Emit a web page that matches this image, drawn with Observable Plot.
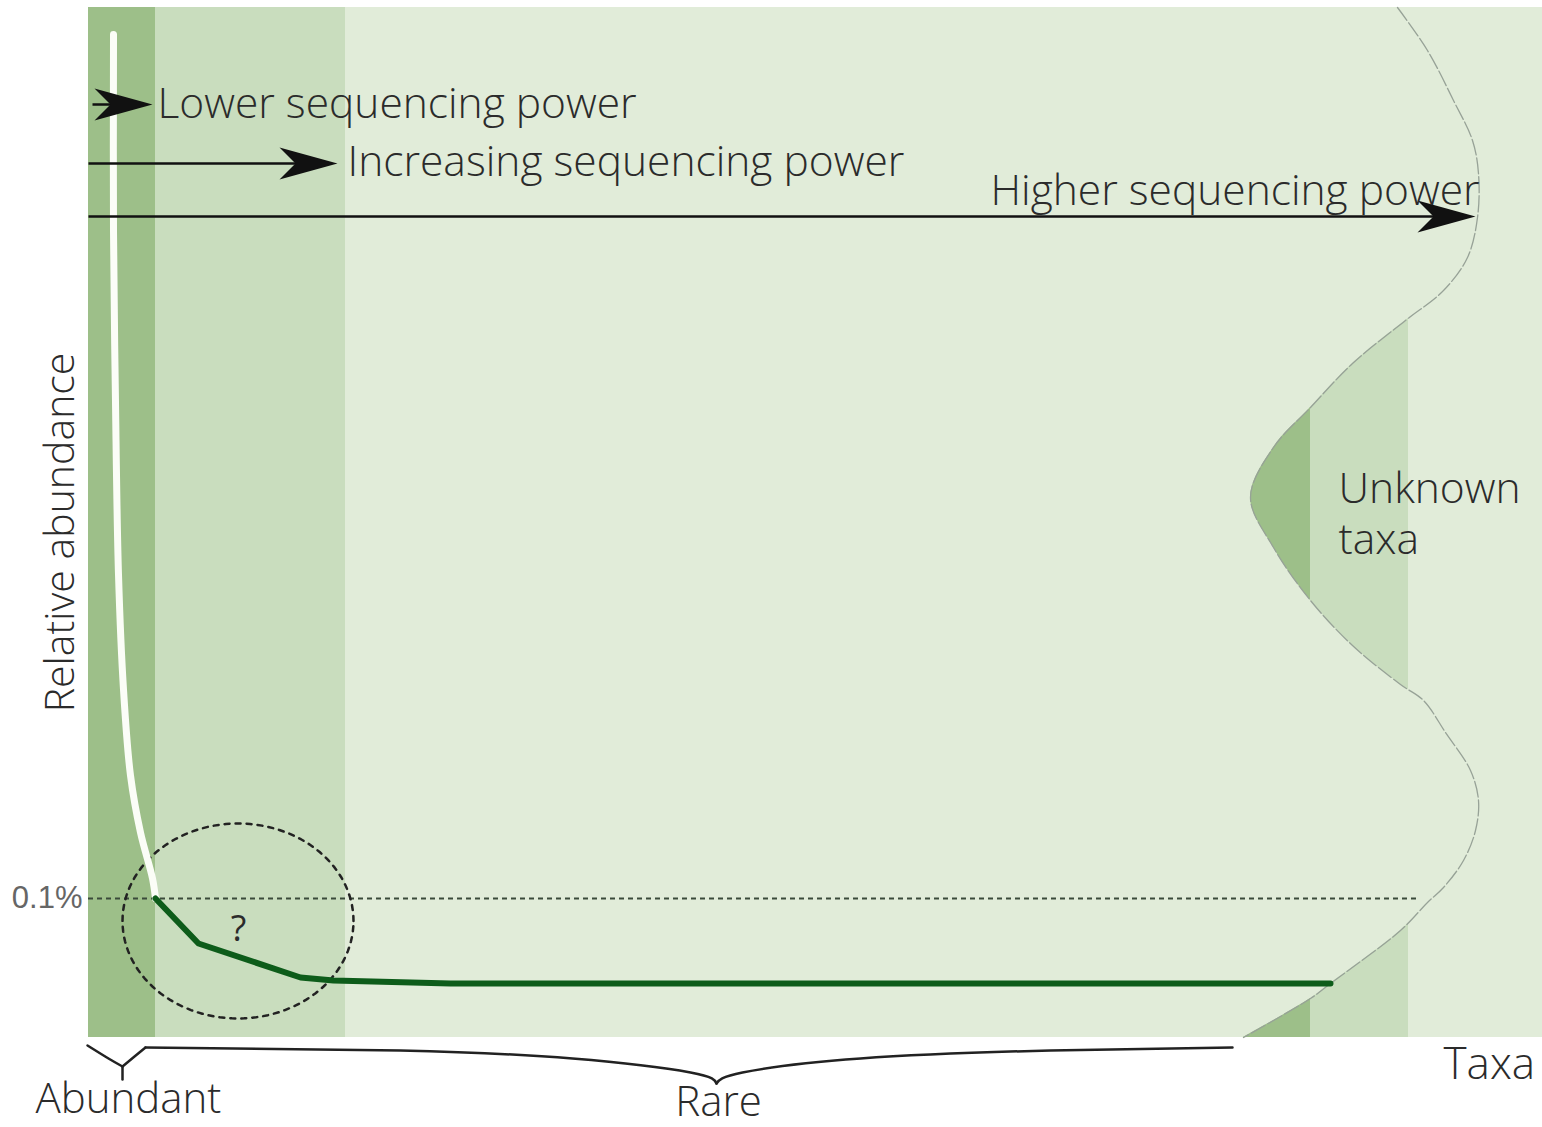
<!DOCTYPE html>
<html><head><meta charset="utf-8">
<script src="https://cdn.jsdelivr.net/npm/d3@7"></script>
<script src="https://cdn.jsdelivr.net/npm/@observablehq/plot@0.6"></script>
<style>html,body{margin:0;padding:0;background:#fff;} svg{display:block;}</style>
</head><body><div id="chart"></div>
<script>
// ---- data (chart units: taxa rank on x, relative abundance on y) ----
const taxaDomain = [0, 1454];
const abundanceDomain = [0, 1030];

const abundantBand = [0, 67];
const increasingBand = [67, 257];

// rank-abundance curve, abundant part (white)
const abundantX = [25, 25, 27, 30, 35, 42, 52, 64, 67];
const abundantY = [1003, 807, 635, 463, 348, 262, 205, 159, 139];

// rank-abundance curve, rare part (green)
const rareX = [67, 110, 212, 245, 362, 1242];
const rareY = [139, 94, 60, 57, 54, 54];

const thresholdValue = 139;
const thresholdLabel = "0.1%";

// boundary of the known/unknown taxa (wavy)
const boundaryX = [1309, 1339, 1365, 1384, 1390, 1389, 1379, 1355, 1317, 1264, 1222, 1185, 1162, 1185, 1222, 1264, 1312, 1335, 1357, 1382, 1390, 1387, 1375, 1355, 1339, 1312, 1242, 1222, 1155];
const boundaryY = [1030, 987, 937, 897, 864, 820, 780, 747, 717, 674, 630, 590, 540, 490, 437, 392, 353, 337, 305, 267, 237, 207, 177, 150, 135, 107, 54, 39, 0];

const unknownDarkBand = [1100, 1222];
const unknownMidBand = [1222, 1320];
const unknownTop = 730;

// uncertainty ellipse
const ellipse = {cx: 149.5, cy: 116.5, rx: 115.5, ry: 97.5};

// sequencing power arrows
const arrowLabels = ["Lower sequencing power", "Increasing sequencing power", "Higher sequencing power"];
const arrowStart = [4, 0, 0];
const arrowEnd = [64, 249, 1387];
const arrowY = [933, 874, 821];
const arrowLabelX = [69, 259, 902];
const arrowLabelY = [920, 862, 833];

// braces
const abundantBraceLeft = [[-1, -8], [20, -21], [34, -29]];
const abundantBraceRight = [[57, -10], [46, -19], [34, -29]];
const abundantBraceStem = [[34, -29], [34, -42]];
const rareBraceLeft = [[57, -10], [312, -13], [484, -21], [602, -35], [628, -46]];
const rareBraceRight = [[628, -46], [654, -35], [772, -21], [962, -13], [1144, -10]];

const unknownLabel = {text: "Unknown\ntaxa", x: 1250, y: 484};
const taxaLabel = {text: "Taxa", x: 1355, y: -41};
const abundantLabel = {text: "Abundant", x: -53, y: -75};
const questionLabel = {text: "?", x: 150, y: 97};
const rareLabel = {text: "Rare", x: 630, y: -78};
const yTitle = {text: "Relative abundance", x: -15, y: 505};

// ---- styles ----
const LIGHT = "#e1ecd9", MID = "#c9ddbe", DARK = "#9dbf89";
const GREEN = "#0d5c1a", INK = "#2b2b2b";
const FONT = "'Open Sans', 'DejaVu Sans', sans-serif";

const zip = (xs, ys) => xs.map((x, i) => ({x, y: ys[i]}));
const boundary = zip(boundaryX, boundaryY);
const abundantCurve = zip(abundantX, abundantY);
const rareCurve = zip(rareX, rareY);
const ellipsePts = d3.range(0, 361, 3).map(a => ({
  x: ellipse.cx + ellipse.rx * Math.cos(a * Math.PI / 180),
  y: ellipse.cy + ellipse.ry * Math.sin(a * Math.PI / 180)
}));
const arrows = arrowLabels.map((label, i) => ({label, x1: arrowStart[i], x2: arrowEnd[i], y: arrowY[i], lx: arrowLabelX[i], ly: arrowLabelY[i]}));
const pts = a => a.map(([x, y]) => ({x, y}));

const stealth = {
  draw(ctx) {
    ctx.moveTo(0, 0);
    ctx.lineTo(-58, -16);
    ctx.lineTo(-42, 0);
    ctx.lineTo(-58, 16);
    ctx.closePath();
  }
};

const textStyle = {fontFamily: FONT, fontWeight: 300, fill: INK, lineAnchor: "bottom"};
const label = (d, size, anchor = "start", extra = {}) =>
  Plot.text([d], {x: "x", y: "y", text: "text", textAnchor: anchor, ...textStyle, fontSize: size, ...extra});

const chart = Plot.plot({
  width: 1542,
  height: 1127,
  marginLeft: 88,
  marginRight: 0,
  marginTop: 7,
  marginBottom: 90,
  style: {background: "#fff", overflow: "visible"},
  x: {domain: taxaDomain, axis: null},
  y: {domain: abundanceDomain, axis: null},
  marks: [
    Plot.rect([0], {x1: taxaDomain[0], x2: taxaDomain[1], y1: abundanceDomain[0], y2: abundanceDomain[1], fill: LIGHT}),
    Plot.rect([0], {x1: abundantBand[0], x2: abundantBand[1], y1: abundanceDomain[0], y2: abundanceDomain[1], fill: DARK}),
    Plot.rect([0], {x1: increasingBand[0], x2: increasingBand[1], y1: abundanceDomain[0], y2: abundanceDomain[1], fill: MID}),
    Plot.rect([0], {x1: unknownDarkBand[0], x2: unknownDarkBand[1], y1: 0, y2: unknownTop, fill: DARK}),
    Plot.rect([0], {x1: unknownMidBand[0], x2: unknownMidBand[1], y1: 0, y2: unknownTop, fill: MID}),
    Plot.areaX(boundary, {y: "y", x1: () => unknownDarkBand[0] - 10, x2: "x", fill: LIGHT, curve: "catmull-rom"}),
    Plot.line(boundary, {x: "x", y: "y", stroke: "#97a297", strokeWidth: 1.3, strokeDasharray: "16,3", curve: "catmull-rom"}),
    Plot.ruleY([thresholdValue], {x1: 0, x2: 1332, stroke: "#3a4a3a", strokeWidth: 2, strokeDasharray: "5,4"}),
    Plot.line(ellipsePts, {x: "x", y: "y", stroke: "#222", strokeWidth: 2.5, strokeDasharray: "5,6", curve: "linear-closed"}),
    Plot.line(abundantCurve, {x: "x", y: "y", stroke: "#fbfdf7", strokeWidth: 7, curve: "catmull-rom", strokeLinecap: "round"}),
    Plot.line(rareCurve, {x: "x", y: "y", stroke: GREEN, strokeWidth: 6, strokeLinejoin: "round"}),
    Plot.link(arrows, {x1: "x1", x2: d => d.x2 - 20, y1: "y", y2: "y", stroke: "#111", strokeWidth: 2.5}),
    Plot.dot(arrows, {x: "x2", y: "y", symbol: stealth, fill: "#111", stroke: "none", r: 10}),
    Plot.text(arrows, {x: "lx", y: "ly", text: "label", textAnchor: "start", ...textStyle, fontSize: 42.5}),
    Plot.text([thresholdLabel], {x: 0, y: thresholdValue, dx: -6, text: d => d, textAnchor: "end", lineAnchor: "middle", fontSize: 31, fontFamily: "'Liberation Sans Narrow', 'Liberation Sans', sans-serif", fill: "#666"}),
    label(unknownLabel, 42.5, "start", {lineHeight: 1.2}),
    label(taxaLabel, 44),
    label(abundantLabel, 42),
    label(questionLabel, 36, "middle", {fontWeight: 400}),
    label(rareLabel, 42, "middle"),
    label(yTitle, 41, "middle", {rotate: -90}),
    Plot.line(pts(abundantBraceLeft), {x: "x", y: "y", stroke: "#222", strokeWidth: 2.5, curve: "natural"}),
    Plot.line(pts(abundantBraceRight), {x: "x", y: "y", stroke: "#222", strokeWidth: 2.5, curve: "natural"}),
    Plot.line(pts(abundantBraceStem), {x: "x", y: "y", stroke: "#222", strokeWidth: 2.5}),
    Plot.line(pts(rareBraceLeft), {x: "x", y: "y", stroke: "#222", strokeWidth: 2.5, curve: "natural"}),
    Plot.line(pts(rareBraceRight), {x: "x", y: "y", stroke: "#222", strokeWidth: 2.5, curve: "natural"})
  ]
});
document.getElementById("chart").appendChild(chart);
</script>
</body></html>
